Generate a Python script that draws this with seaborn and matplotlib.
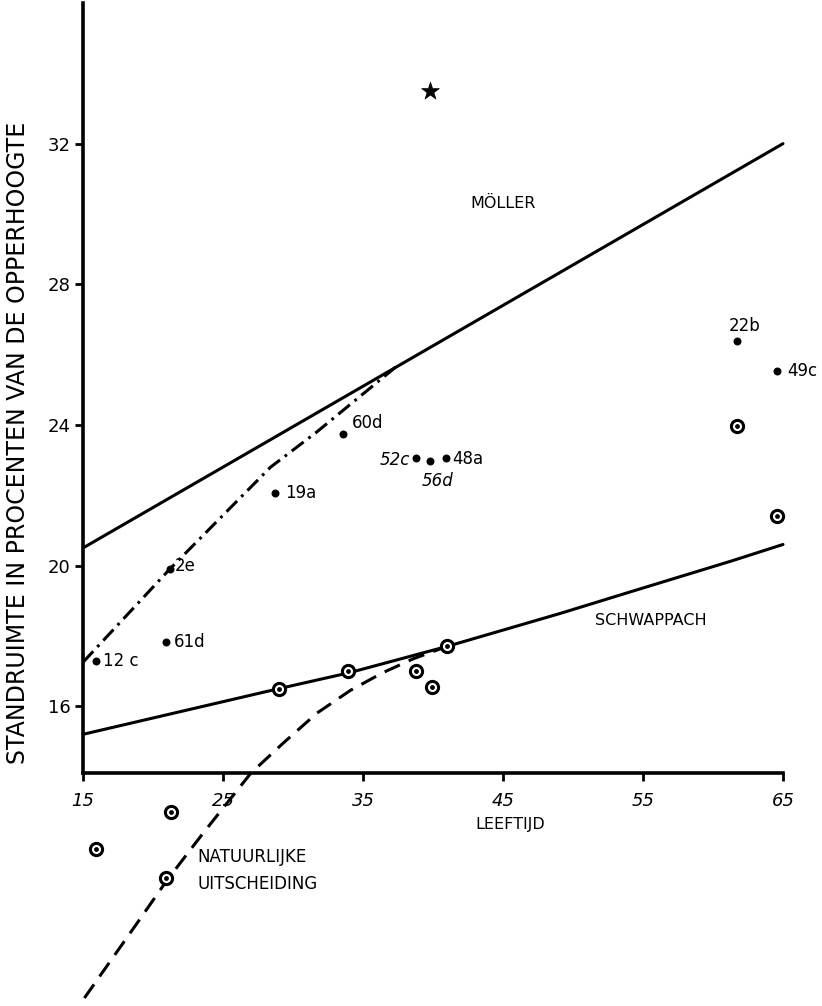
import matplotlib
matplotlib.use("Agg")
import matplotlib.pyplot as plt
import seaborn as sns

# Möller line
moller_age = [15, 65]
moller_val = [20.5, 32.0]

# Schwappach curve
schw_age = [15, 29, 34, 41, 49.1, 54, 61.4, 65]
schw_val = [15.2, 16.5, 16.95, 17.7, 18.64, 19.24, 20.14, 20.6]

# dash-dot curve through the labelled plots
dd_age = [15, 21.2, 28.4, 31.7, 37.5]
dd_val = [17.25, 19.9, 22.8, 23.8, 25.7]

# natuurlijke uitscheiding (dashed)
nat_age = [15.1, 18.9, 21.0, 23.6, 27.0, 29.3, 31.7, 34.1, 36.4, 38.6, 41.0]
nat_val = [7.7, 9.85, 11.05, 12.4, 14.1, 14.95, 15.8, 16.45, 16.95, 17.35, 17.7]

# labelled plots (black dots)
plot_names = ["12 c", "61d", "2e", "19a", "60d", "52c", "56d", "48a", "22b", "49c"]
plot_age = [15.9, 20.9, 21.2, 28.7, 33.6, 38.8, 39.8, 40.9, 61.7, 64.6]
plot_val = [17.28, 17.84, 19.9, 22.07, 23.74, 23.06, 22.98, 23.06, 26.38, 25.53]

# circled points
circ_age = [29.0, 33.9, 38.8, 39.9, 41.0, 61.7, 64.6, 15.9, 21.3, 20.9]
circ_val = [16.5, 17.0, 17.0, 16.55, 17.7, 23.97, 21.42, 11.95, 13.0, 11.1]

# star
star_age = [39.8]
star_val = [33.5]

sns.set_style("ticks")
plt.rcParams["font.family"] = ["DejaVu Sans"]
plt.rcParams["lines.scale_dashes"] = False
plt.rcParams["text.color"] = "black"
plt.rcParams["axes.edgecolor"] = "black"
plt.rcParams["xtick.color"] = "black"
plt.rcParams["ytick.color"] = "black"

fig = plt.figure(figsize=(8.22, 10.06), dpi=100)
ax = fig.add_axes([83 / 822, 1 - 773 / 1006, 700 / 822, 770 / 1006])

lw = 2.2
sns.lineplot(x=moller_age, y=moller_val, ax=ax, color="black", lw=lw, clip_on=False)
sns.lineplot(x=schw_age, y=schw_val, ax=ax, color="black", lw=lw, clip_on=False)
sns.lineplot(x=dd_age, y=dd_val, ax=ax, color="black", lw=lw, sort=False,
             linestyle=(0, (10.8, 4.3, 2, 4.3)), clip_on=False)
sns.lineplot(x=nat_age, y=nat_val, ax=ax, color="black", lw=lw, sort=False,
             linestyle=(0, (12, 7)), clip_on=False)

# circled points: white ring with a dot inside
sns.scatterplot(x=circ_age, y=circ_val, ax=ax, s=77, color="white",
                edgecolor="black", linewidth=2.2, clip_on=False, zorder=5)
sns.scatterplot(x=circ_age, y=circ_val, ax=ax, s=12, color="black",
                edgecolor="black", linewidth=0, clip_on=False, zorder=6)

sns.scatterplot(x=plot_age, y=plot_val, ax=ax, s=33, color="black",
                edgecolor="black", linewidth=0, clip_on=False, zorder=6)
sns.scatterplot(x=star_age, y=star_val, ax=ax, s=180, marker="*", color="black",
                edgecolor="black", linewidth=0.5, clip_on=False, zorder=6)

# label offsets (pixels) and alignment
offsets = {
    "12 c": (7, 0, "left"), "61d": (8, 0, "left"), "2e": (5, 3, "left"),
    "19a": (10, 0, "left"), "60d": (8, 11, "left"), "52c": (-6, -2, "right"),
    "56d": (7, -20, "center"), "48a": (7, -1, "left"), "22b": (8, 15, "center"),
    "49c": (10, 0, "left"),
}
for name, a, v in zip(plot_names, plot_age, plot_val):
    dx, dy, ha = offsets[name]
    style = "italic" if name in ("52c", "56d") else "normal"
    ax.annotate(name, (a, v), xytext=(dx, dy), textcoords="offset pixels",
                ha=ha, va="center", fontsize=12, fontstyle=style,
                annotation_clip=False)

ax.text(45, 30.3, "MÖLLER", ha="center", va="center", fontsize=11.5)
ax.text(51.6, 18.44, "SCHWAPPACH", ha="left", va="center", fontsize=11.5)
ax.text(23.2, 11.72, "NATUURLIJKE", ha="left", va="center", fontsize=12, clip_on=False)
ax.text(23.2, 10.95, "UITSCHEIDING", ha="left", va="center", fontsize=12, clip_on=False)

ax.set_xlim(15, 65)
ax.set_ylim(14.1, 36)
ax.set_xticks([15, 25, 35, 45, 55, 65])
ax.set_yticks([16, 20, 24, 28, 32])
ax.tick_params(axis="both", direction="out", length=6, width=2, labelsize=13, pad=3)
ax.tick_params(axis="x", pad=8)
for lab in ax.get_xticklabels():
    lab.set_fontstyle("italic")
ax.set_xlabel("")
ax.set_ylabel("")

sns.despine(ax=ax)
for side in ("left", "bottom"):
    ax.spines[side].set_linewidth(2.6)

fig.text(510 / 822, 1 - 824 / 1006, "LEEFTIJD", ha="center", va="center", fontsize=11.5)
fig.text(18 / 822, 1 - 443 / 1006, "STANDRUIMTE IN PROCENTEN VAN DE OPPERHOOGTE",
         rotation=90, ha="center", va="center", fontsize=17)

fig.savefig("out.png", dpi=100, facecolor="white")
